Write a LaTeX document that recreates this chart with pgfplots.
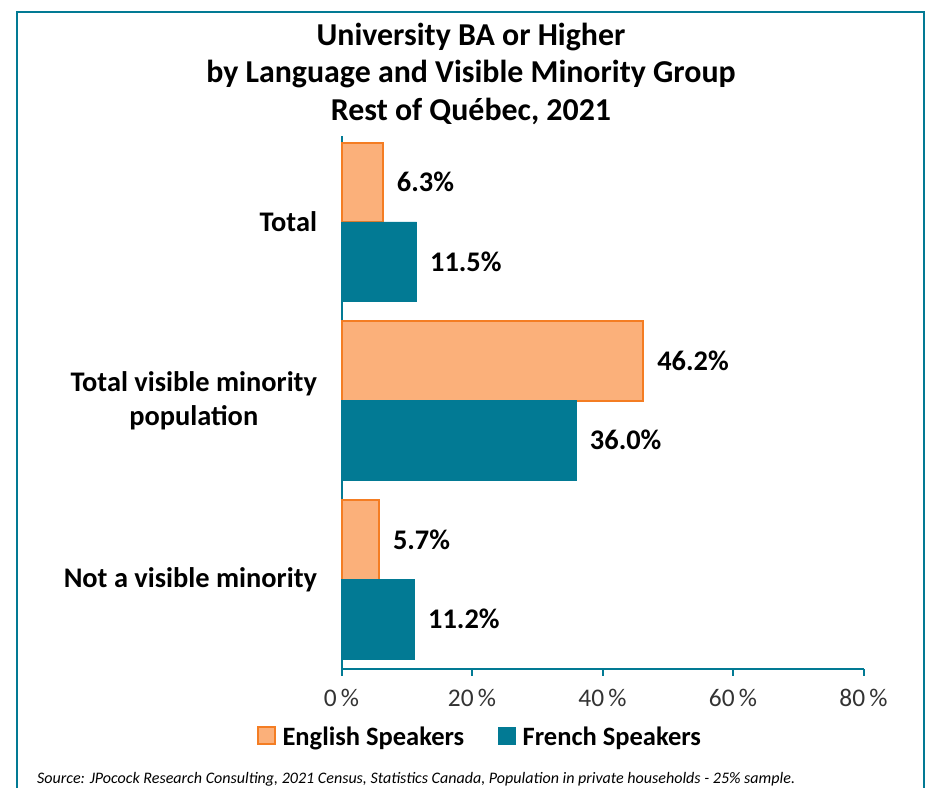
\documentclass[border=0pt]{standalone}
\usepackage{fontspec}
\setmainfont{Carlito}
\usepackage{pgfplots}
\pgfplotsset{compat=1.18}
\definecolor{engfill}{RGB}{251,176,122}
\definecolor{engline}{RGB}{244,125,35}
\definecolor{frteal}{RGB}{2,122,148}
\begin{document}
\begin{tikzpicture}[x=1bp,y=1bp]
\useasboundingbox (0,0) rectangle (930,788);
\draw[frteal, line width=2bp] (17,776) rectangle (924,-20);
\node[font=\fontsize{32}{38}\selectfont\bfseries, anchor=base] at (471,742) {University BA or Higher};
\node[font=\fontsize{32}{38}\selectfont\bfseries, anchor=base] at (471,705) {by Language and Visible Minority Group};
\node[font=\fontsize{32}{38}\selectfont\bfseries, anchor=base] at (471,667) {Rest of Québec, 2021};
\node[font=\fontsize{16.1}{19}\selectfont\itshape, anchor=base west, inner sep=0pt] at (37,4.5) {Source: JPocock Research Consulting, 2021 Census, Statistics Canada, Population in private households - 25\% sample.};
\begin{axis}[
  at={(341.5bp,119bp)}, anchor=south west,
  scale only axis, width=522bp, height=533bp,
  xbar, clip=false,
  xmin=0, xmax=80, ymin=-0.5, ymax=2.48,
  bar width=0.443,
  axis x line*=bottom, axis y line*=left,
  axis line style={frteal, line width=2bp},
  xtick={0,20,40,60,80},
  xticklabels={0\,\%,20\,\%,40\,\%,60\,\%,80\,\%},
  tick align=outside, major tick length=7bp,
  x tick style={frteal, line width=2bp},
  y tick style={draw=none},
  ytick={0,1,2},
  yticklabels={Not a visible minority,{Total visible minority\\population},Total},
  yticklabel style={align=center, font=\fontsize{28.5}{34}\selectfont\bfseries, text=black, xshift=-14bp},
  ytick pos=left,
  xticklabel style={font=\fontsize{25.5}{30}\selectfont, text=black!80, yshift=-10bp},
  /pgf/number format/assume math mode=true,
  point meta=x,
  nodes near coords={\pgfmathprintnumber[fixed,zerofill,precision=1]{\pgfplotspointmeta}\%},
  nodes near coords style={font=\fontsize{28.5}{34}\selectfont\bfseries, anchor=west, xshift=10bp, text=black},
  legend style={at={(0.263,-0.1276)}, anchor=center, draw=none, legend columns=2,
    font=\fontsize{26.6}{32}\selectfont\bfseries,
    nodes={inner xsep=0pt},
    /tikz/every odd column/.append style={column sep=7bp},
    /tikz/every even column/.append style={column sep=34bp}},
  legend image code/.code={\draw[#1] (0bp,-7bp) rectangle (17bp,10bp);},
]
\addplot[fill=engfill, draw=engline, line width=2bp, bar shift=0.2215] coordinates {(5.7,0) (46.2,1) (6.3,2)};
\addplot[fill=frteal, draw=frteal, line width=0.5bp, bar shift=-0.2215] coordinates {(11.2,0) (36.0,1) (11.5,2)};
\legend{English Speakers, French Speakers}
\end{axis}
\end{tikzpicture}
\end{document}
